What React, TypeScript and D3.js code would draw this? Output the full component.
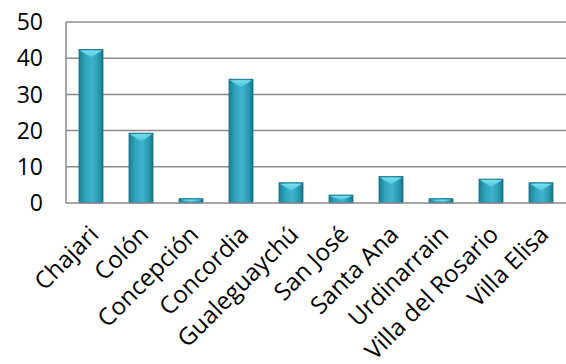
import React from "react";
import * as d3 from "d3";

const categories = ["Chajari", "Colón", "Concepción", "Concordia", "Gualeguaychú", "San José", "Santa Ana", "Urdinarrain", "Villa del Rosario", "Villa Elisa"];
const values = [42.4, 19.3, 1.2, 34.2, 5.6, 2.2, 7.3, 1.2, 6.6, 5.6];
const yTicks = [0, 10, 20, 30, 40, 50];

const W = 566, H = 364;
const M = { left: 66, right: 0, top: 22, bottom: 161 };

export default function App() {
  const x = d3.scaleBand<string>().domain(categories).range([M.left, W - M.right]).paddingInner(0.52).paddingOuter(0.26);
  const y = d3.scaleLinear().domain([0, 50]).range([H - M.bottom, M.top]);
  const font = "'Open Sans', 'Liberation Sans', sans-serif";
  return (
    <svg width={W} height={H} style={{ position: "absolute", left: 0, top: 0, background: "#fff" }}>
      <defs>
        <linearGradient id="barG" x1="0" x2="1" y1="0" y2="0">
          <stop offset="0" stopColor="#1b7f92" />
          <stop offset="0.25" stopColor="#2ea3ba" />
          <stop offset="0.55" stopColor="#3fb4cc" />
          <stop offset="0.85" stopColor="#2796ad" />
          <stop offset="1" stopColor="#186f80" />
        </linearGradient>
        <linearGradient id="capG" x1="0" x2="0" y1="0" y2="1">
          <stop offset="0" stopColor="#7fe6f6" />
          <stop offset="1" stopColor="#4cc6dc" />
        </linearGradient>
      </defs>
      {yTicks.map((t) => (
        <g key={t}>
          {t > 0 && <line x1={M.left} x2={W} y1={y(t)} y2={y(t)} stroke="#8a8a8a" strokeWidth={1.5} />}
          <text x={43} y={y(t)} dy="0.36em" textAnchor="end" fontFamily={font} fontSize={23} fill="#000">{t}</text>
        </g>
      ))}
      <line x1={M.left} x2={M.left} y1={M.top} y2={y(0)} stroke="#8a8a8a" strokeWidth={1.5} />
      {categories.map((c, i) => {
        const bx = x(c)!;
        const bw = x.bandwidth();
        const top = y(values[i]);
        const h = y(0) - top;
        const capH = Math.min(7, h * 0.5);
        return (
          <g key={c}>
            <rect x={bx} y={top} width={bw} height={h} fill="url(#barG)" stroke="#15707f" strokeWidth={0.8} />
            <path d={`M${bx + 1},${top + 1}L${bx + bw - 1},${top + 1}L${bx + bw / 2},${top + 1 + capH}Z`} fill="url(#capG)" opacity={0.9} />
          </g>
        );
      })}
      <line x1={M.left} x2={W} y1={y(0)} y2={y(0)} stroke="#8a8a8a" strokeWidth={1.5} />
      {categories.map((c) => {
        const cx = x(c)! + x.bandwidth() / 2;
        return (
          <text key={c} transform={`translate(${cx + 9},${y(0) + 33}) rotate(-45)`} textAnchor="end" fontFamily={font} fontSize={24} fill="#000">{c}</text>
        );
      })}
    </svg>
  );
}
